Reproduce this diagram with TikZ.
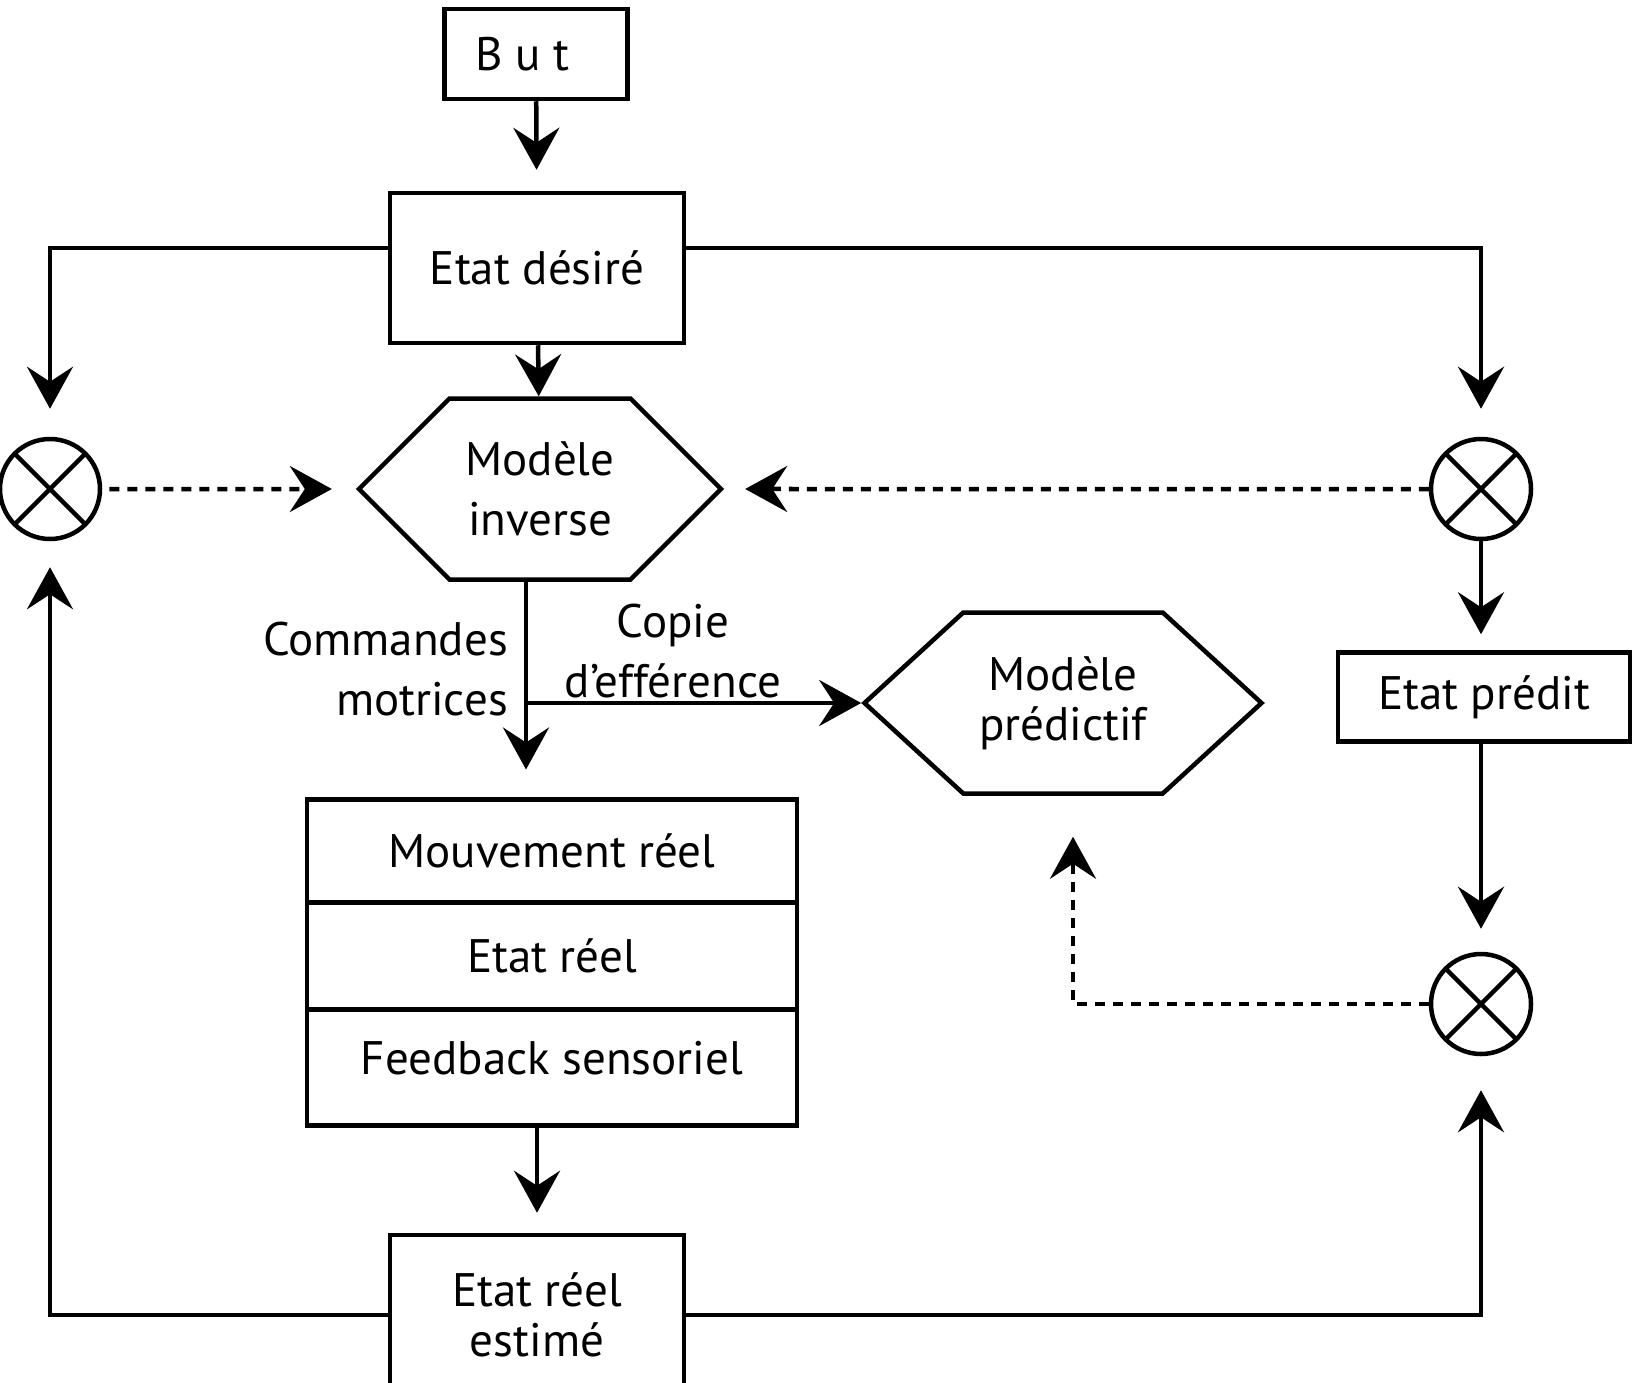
\documentclass[tikz,border=0pt]{standalone}
\usepackage{fontspec}
\setmainfont{PT Sans}
\usetikzlibrary{arrows.meta,positioning,shapes.symbols}

\tikzset{
   arr/.style={-{Stealth[length=42pt,width=46pt,inset=15pt]}},
   dotarr/.style={arr, dash pattern=on 10pt off 8pt},
   box/.style={draw, rectangle, inner sep=0pt, align=center},
   hexa/.style={draw, signal, signal to=east and west, signal pointer angle=90, inner sep=0pt, align=center},
   tight/.style={font=\fontsize{47}{50}\selectfont},
   mult/.style={draw, circle, minimum size=100pt, inner sep=0pt,
      path picture={\draw (path picture bounding box.north west) -- (path picture bounding box.south east)
                           (path picture bounding box.north east) -- (path picture bounding box.south west);}},
}

\begin{document}
\begin{tikzpicture}[x=1pt, y=-1pt, line width=4.5pt, font=\fontsize{47}{60}\selectfont]
   \useasboundingbox (0,0) rectangle (1632,1383);

   % goal and desired state
   \node[box, minimum width=183pt, minimum height=90pt] (but) at (536,54) {\hspace{-27pt}B u t};
   \node[box, minimum width=294pt, minimum height=150pt] (desire) at (537,268) {Etat désiré};

   % models
   \node[hexa, minimum width=362pt, minimum height=181pt] (inv) at (540,489) {Modèle\\inverse};
   \node[hexa, tight, signal pointer angle=85, minimum width=397pt, minimum height=181pt] (mpred) at (1063,703) {Modèle\\prédictif};

   % comparators
   \node[mult] (cl) at (50,489) {};
   \node[mult] (cr1) at (1481,489) {};
   \node[mult] (cr2) at (1481,1004) {};

   \node[box, minimum width=292pt, minimum height=89pt] (predit) at (1484,697) {Etat prédit};

   % movement stack
   \node[box, outer sep=0pt, minimum width=490pt, minimum height=103pt] (mouv) at (552,851) {Mouvement réel};
   \node[box, outer sep=0pt, minimum width=490pt, minimum height=107pt, below=0pt of mouv] (reel) {Etat réel};
   \node[box, outer sep=0pt, minimum width=490pt, minimum height=116pt, text depth=20pt, below=0pt of reel] (feed) {Feedback sensoriel};

   \node[box, tight, minimum width=294pt, minimum height=160pt] (estime) at (537,1315) {Etat réel\\estimé};

   % labels
   \node[anchor=east, align=right, inner sep=0pt] (cmd) at (510,669) {Commandes\\motrices};
   \node[align=center, inner sep=0pt] (copie) at (673,651) {Copie\\d’efférence};

   \coordinate (cmdtop) at ([xshift=-14pt]inv.south);
   \coordinate (split) at (cmdtop |- mpred.west);
   \coordinate (mpredbot) at ([xshift=10pt]mpred.south);

   % connectors
   \draw[arr, shorten >=21pt] (but) -- (desire);
   \draw[arr] (desire) -- (inv);
   \draw[arr, shorten >=28pt] ([yshift=20pt]desire.west) -| (cl);
   \draw[arr, shorten >=28pt] ([yshift=20pt]desire.east) -| (cr1);
   \draw[dotarr, shorten <=7pt, shorten >=24pt] (cl) -- (inv);
   \draw[dotarr, shorten >=21pt] (cr1) -- (inv);
   \draw[arr, shorten >=16pt] (cr1) -- (cr1 |- predit.north);
   \draw[arr, shorten >=23pt] (predit.south -| cr2) -- (cr2);
   \draw[dotarr, shorten >=41pt] (cr2) -| (mpredbot);
   \draw[arr, shorten >=30pt] (cmdtop) -- (cmdtop |- mouv.north);
   \draw[arr] (split) -- (mpred.west);
   \draw[arr, shorten >=20pt] (feed.south -| estime.north) -- (estime.north);
   \draw[arr, shorten >=26pt] (estime.west) -| (cl);
   \draw[arr, shorten >=34pt] (estime.east) -| (cr2);
\end{tikzpicture}
\end{document}
